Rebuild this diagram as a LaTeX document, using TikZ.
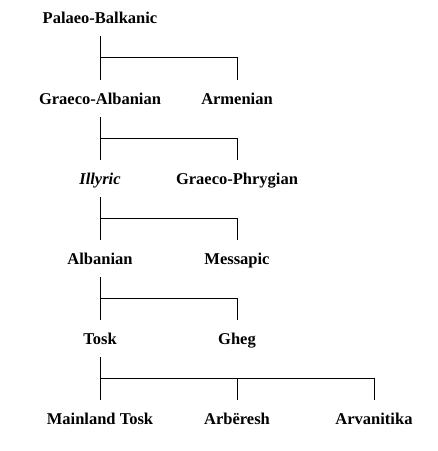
\documentclass[tikz,border=0pt]{standalone}
\usepackage{fontspec}
\setmainfont{Liberation Serif}
\usetikzlibrary{calc}
\begin{document}
\begin{tikzpicture}[x=1pt,y=-1pt,
  lang/.style={font=\fontsize{16.5}{19}\selectfont\bfseries,anchor=base,inner sep=0pt,text height=11pt,text depth=3pt},
  link/.style={line width=1pt,shorten <=10pt,shorten >=13pt},
  branch/.style={line width=1pt,shorten >=13pt}]
  \useasboundingbox (0,0) rectangle (438,451);
  \node[lang] (palaeo) at (100,23) {Palaeo-Balkanic};
  \node[lang] (gralb) at (100,104) {Graeco-Albanian};
  \node[lang] (armen) at (237,104) {Armenian};
  \node[lang] (illyr) at (100,184) {\itshape Illyric};
  \node[lang] (grphr) at (237,184) {Graeco-Phrygian};
  \node[lang] (alban) at (100,264) {Albanian};
  \node[lang] (messa) at (237,264) {Messapic};
  \node[lang] (tosk) at (100,344) {Tosk};
  \node[lang] (gheg) at (237,344) {Gheg};
  \node[lang] (mtosk) at (100,424) {Mainland Tosk};
  \node[lang] (arber) at (237,424) {Arbëresh};
  \node[lang] (arvan) at (374,424) {Arvanitika};
  \draw[link] (palaeo.south) -- (gralb.north);
  \coordinate (j1) at ($(palaeo.south)!0.47!(gralb.north)$);
  \draw[branch] (j1) -| (armen.north);
  \draw[link] (gralb.south) -- (illyr.north);
  \coordinate (j2) at ($(gralb.south)!0.47!(illyr.north)$);
  \draw[branch] (j2) -| (grphr.north);
  \draw[link] (illyr.south) -- (alban.north);
  \coordinate (j3) at ($(illyr.south)!0.47!(alban.north)$);
  \draw[branch] (j3) -| (messa.north);
  \draw[link] (alban.south) -- (tosk.north);
  \coordinate (j4) at ($(alban.south)!0.47!(tosk.north)$);
  \draw[branch] (j4) -| (gheg.north);
  \draw[link] (tosk.south) -- (mtosk.north);
  \coordinate (j5) at ($(tosk.south)!0.47!(mtosk.north)$);
  \draw[branch] (j5) -| (arber.north);
  \draw[branch] (j5) -| (arvan.north);
\end{tikzpicture}
\end{document}
